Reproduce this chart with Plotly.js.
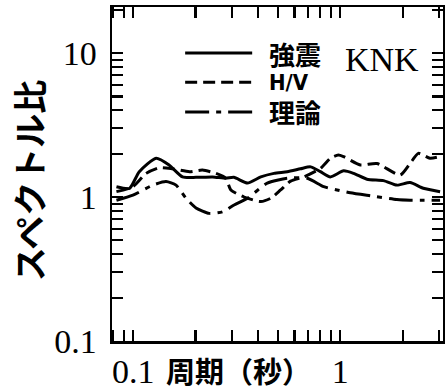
<!DOCTYPE html>
<html>
<head>
<meta charset="utf-8">
<script src="https://cdn.plot.ly/plotly-3.0.1.min.js"></script>
<style>
  html, body { margin: 0; padding: 0; background: #fff; }
  #chart { width: 445px; height: 392px; }
</style>
</head>
<body>
<div id="chart"></div>
<script>
// Spectral ratio vs. period at station KNK (log-log)
const periodStrong = [0.083, 0.096, 0.107, 0.129, 0.149, 0.173, 0.201, 0.242, 0.280, 0.306, 0.356, 0.413, 0.478, 0.554, 0.642, 0.718, 0.801, 0.895, 1.037, 1.158, 1.344, 1.615, 1.874, 2.171, 2.515, 3.03];
const ratioStrong  = [1.18, 1.15, 1.50, 1.86, 1.67, 1.38, 1.37, 1.38, 1.35, 1.37, 1.25, 1.38, 1.46, 1.50, 1.57, 1.62, 1.50, 1.38, 1.52, 1.46, 1.33, 1.30, 1.21, 1.26, 1.15, 1.09];

const periodHV = [0.083, 0.0997, 0.1155, 0.134, 0.155, 0.187, 0.216, 0.251, 0.280, 0.296, 0.343, 0.413, 0.461, 0.515, 0.575, 0.666, 0.801, 0.895, 0.978, 1.037, 1.248, 1.501, 1.944, 2.171, 2.379, 2.708, 3.03];
const ratioHV  = [1.09, 1.18, 1.46, 1.60, 1.57, 1.50, 1.54, 1.46, 1.35, 1.12, 1.00, 0.93, 0.98, 1.12, 1.29, 1.38, 1.58, 1.86, 1.96, 1.91, 1.67, 1.71, 1.42, 1.71, 2.01, 1.86, 1.91];

const periodTheory = [0.083, 0.0997, 0.1244, 0.144, 0.161, 0.180, 0.201, 0.233, 0.270, 0.307, 0.356, 0.444, 0.554, 0.692, 0.831, 0.964, 1.117, 1.394, 1.874, 2.171, 3.03];
const ratioTheory  = [0.95, 1.03, 1.21, 1.28, 1.21, 0.98, 0.84, 0.77, 0.79, 0.88, 0.98, 1.25, 1.35, 1.35, 1.18, 1.12, 1.07, 1.02, 0.96, 0.95, 0.95];

const seriesNames = ['強震', 'H/V', '理論'];
const stationName = 'KNK';
const xTickVals = [0.1, 1];
const xTickText = ['0.1', '1'];
const yTickVals = [0.1, 1, 10];
const yTickText = ['0.1', '1', '10'];
const xTitle = '周期（秒）';
const yTitle = 'スペクトル比';

// labelled decade ticks plus unlabelled ticks at 2..9 of each decade
function logTicks(decades, labelVals, labelText) {
  const vals = labelVals.slice();
  const text = labelText.slice();
  decades.forEach(p => {
    for (let k = 2; k <= 9; k++) { vals.push(k * Math.pow(10, p)); text.push(''); }
  });
  return { tickvals: vals, ticktext: text };
}

const dashes = ['solid', '12px,6px', '24px,7px,5px,7px'];
const serif = 'Liberation Serif, Times New Roman, serif';
const gothic = 'Noto Sans CJK JP, Noto Sans, sans-serif';

const traces = [
  [periodStrong, ratioStrong],
  [periodHV, ratioHV],
  [periodTheory, ratioTheory]
].map((d, i) => ({
  x: d[0], y: d[1], name: seriesNames[i], type: 'scatter', mode: 'lines',
  line: { color: '#000', width: 3, dash: dashes[i], shape: 'spline', smoothing: 0.6 },
  showlegend: false, hoverinfo: 'skip'
}));

const base = {
  type: 'log', showgrid: false, zeroline: false,
  showline: true, linecolor: '#000', linewidth: 2.5, mirror: 'ticks',
  ticks: 'inside', tickcolor: '#000', tickmode: 'array', ticklen: 11, tickwidth: 2.2,
  tickfont: { family: serif, size: 34, color: '#000' }
};
const xAxis = Object.assign({}, base, logTicks([-2, -1, 0], xTickVals, xTickText), {
  range: [Math.log10(0.079), Math.log10(3.13)], ticklabelstandoff: -1
});
const yAxis = Object.assign({}, base, logTicks([-1, 0, 1], yTickVals, yTickText), {
  range: [-1, 1.32], ticklabelstandoff: 6
});

// Hand-drawn key in the upper part of the frame
const keyY = [0.862, 0.775, 0.686];
const shapes = keyY.map((y, i) => ({
  type: 'line', xref: 'paper', yref: 'paper', x0: 0.221, x1: 0.4235, y0: y, y1: y,
  line: { color: '#000', width: 3, dash: dashes[i] }
}));
const keyFont = [
  { family: gothic, size: 26, color: '#000', weight: 700 },
  { family: 'DejaVu Sans Condensed, Liberation Sans Narrow, sans-serif', size: 22, color: '#000', weight: 700 },
  { family: gothic, size: 26, color: '#000', weight: 700 }
];
const annotations = keyY.map((y, i) => ({
  xref: 'paper', yref: 'paper', x: 0.472, y: y, xanchor: 'left', yanchor: 'middle',
  text: seriesNames[i], showarrow: false, font: keyFont[i], borderpad: 0
}));
annotations.push({
  xref: 'paper', yref: 'paper', x: 0.698, y: 0.844, xanchor: 'left', yanchor: 'middle',
  text: stationName, showarrow: false, font: { family: serif, size: 34, color: '#000' }
});
annotations.push({
  xref: 'paper', yref: 'paper', x: 0.381, y: -0.088, xanchor: 'center', yanchor: 'middle',
  text: xTitle, showarrow: false, borderpad: 0,
  font: { family: gothic, size: 29, color: '#000', weight: 700 }
});
annotations.push({
  xref: 'paper', yref: 'paper', x: -0.252, y: 0.48, xanchor: 'center', yanchor: 'middle',
  text: yTitle, textangle: -90, showarrow: false,
  font: { family: gothic, size: 34, color: '#000', weight: 700 }
});

const layout = {
  width: 445, height: 392,
  margin: { l: 112, r: 2, t: 7, b: 51 },
  paper_bgcolor: '#fff', plot_bgcolor: '#fff',
  xaxis: xAxis, yaxis: yAxis,
  shapes: shapes,
  annotations: annotations
};

Plotly.newPlot('chart', traces, layout, { staticPlot: true, displayModeBar: false });
</script>
</body>
</html>
